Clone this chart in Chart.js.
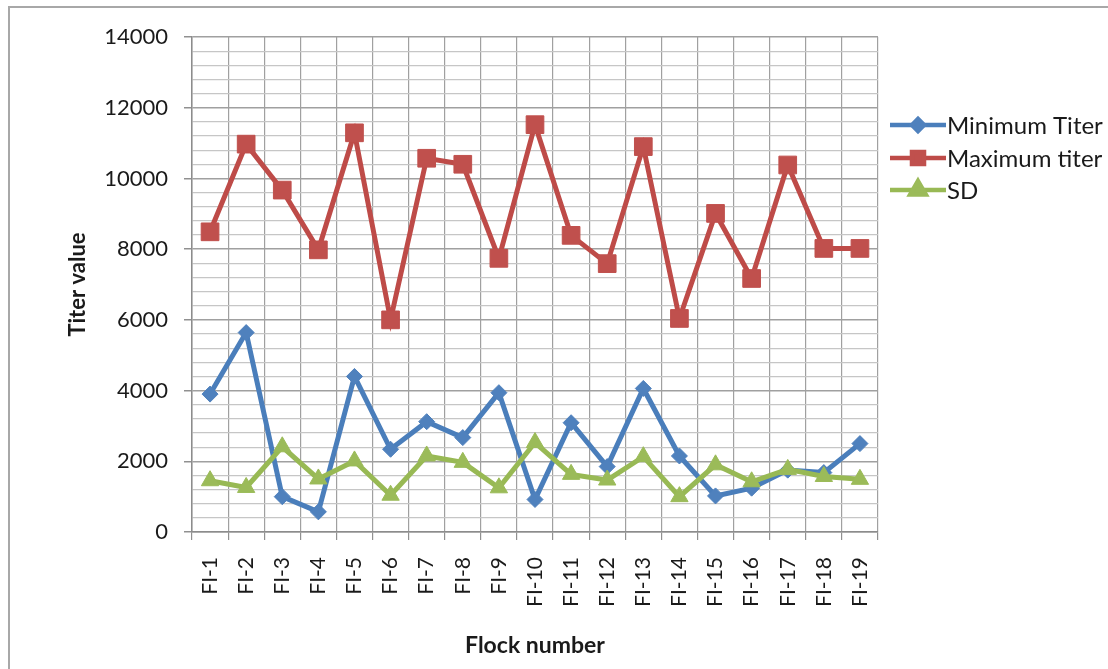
<!doctype html>
<html lang="en">
  <head>
    <meta charset="utf-8">
    <title>Titer values by flock</title>
    <style>
      body { margin: 0; background: #fff; }
    </style>
  </head>
  <body>
    <canvas id="titer-chart" width="1108" height="669"></canvas>

    <script src="https://cdn.jsdelivr.net/npm/chart.js"></script>
    <script>
        // data
        var flocks = ['FI-1', 'FI-2', 'FI-3', 'FI-4', 'FI-5', 'FI-6', 'FI-7', 'FI-8', 'FI-9', 'FI-10',
                      'FI-11', 'FI-12', 'FI-13', 'FI-14', 'FI-15', 'FI-16', 'FI-17', 'FI-18', 'FI-19']
        var minTiter = [3900, 5640, 1000, 570, 4400, 2340, 3120, 2670, 3940, 920,
                        3090, 1850, 4060, 2150, 1020, 1240, 1750, 1680, 2500]
        var maxTiter = [8490, 10970, 9670, 7980, 11290, 6000, 10570, 10400, 7740, 11520,
                        8390, 7590, 10900, 6040, 9010, 7170, 10380, 8020, 8020]
        var sdValues = [1450, 1260, 2410, 1500, 2010, 1040, 2150, 1970, 1250, 2530,
                        1630, 1470, 2130, 1000, 1900, 1420, 1770, 1570, 1490]
        var yTicks = [0, 2000, 4000, 6000, 8000, 10000, 12000, 14000]

        var seriesNames = ['Minimum Titer', 'Maximum titer', 'SD']
        var lineColors = ['#4a7ebb', '#be4b48', '#98b954']
        var markerColors = ['#4f81bd', '#c0504d', '#9bbb59']

        var textColor = '#1a1a1a'
        var font = 'Lato, "Open Sans", sans-serif'

        // frame round the picture and an Excel-like legend (line + marker)
        var framePlugin = {
            id: 'framePlugin',
            beforeDraw: function (chart) {
                var ctx = chart.ctx
                ctx.save()
                ctx.fillStyle = '#fff'
                ctx.fillRect(0, 0, chart.width, chart.height)
                ctx.strokeStyle = '#a8a8a8'
                ctx.lineWidth = 2
                ctx.beginPath()
                ctx.moveTo(9, chart.height)
                ctx.lineTo(9, 7)
                ctx.lineTo(chart.width, 7)
                ctx.stroke()
                ctx.restore()
            },
            afterDraw: function (chart) {
                var ctx = chart.ctx
                var legendMarks = [
                    { pointStyle: 'rectRot', radius: 6 },
                    { pointStyle: 'rect', radius: 8.5 },
                    { pointStyle: 'triangle', radius: 9 }
                ]
                var rows = [125, 158, 190]
                ctx.save()
                for (var i = 0; i < seriesNames.length; i++) {
                    var y = rows[i]
                    ctx.strokeStyle = lineColors[i]
                    ctx.lineWidth = 4.5
                    ctx.beginPath()
                    ctx.moveTo(890, y)
                    ctx.lineTo(946, y)
                    ctx.stroke()
                    ctx.fillStyle = markerColors[i]
                    ctx.strokeStyle = markerColors[i]
                    Chart.helpers.drawPoint(ctx, {
                        pointStyle: legendMarks[i].pointStyle,
                        radius: legendMarks[i].radius,
                        rotation: 0,
                        borderWidth: 1
                    }, 918, y)
                    ctx.fillStyle = textColor
                    ctx.font = '24px ' + font
                    ctx.textBaseline = 'middle'
                    ctx.textAlign = 'left'
                    ctx.fillText(seriesNames[i], 947, y + 1)
                }
                ctx.restore()
            }
        }

        function makeSeries(idx, values, pointStyle, radius, order) {
            return {
                label: seriesNames[idx],
                data: values,
                borderColor: lineColors[idx],
                backgroundColor: markerColors[idx],
                pointBackgroundColor: markerColors[idx],
                pointBorderColor: markerColors[idx],
                pointBorderWidth: 1,
                borderWidth: 5,
                pointStyle: pointStyle,
                pointRadius: radius,
                pointHoverRadius: radius,
                tension: 0,
                fill: false,
                order: order
            }
        }

        var titerChart = new Chart(document.getElementById('titer-chart'), {
            type: 'line',
            data: {
                labels: flocks,
                datasets: [
                    makeSeries(0, minTiter, 'rectRot', 8, 2),
                    makeSeries(1, maxTiter, 'rect', 12.5, 1),
                    makeSeries(2, sdValues, 'triangle', 10, 0)
                ]
            },
            options: {
                responsive: false,
                animation: false,
                layout: {
                    padding: { left: 0, top: 37, right: 230, bottom: 0 }
                },
                plugins: {
                    legend: { display: false },
                    tooltip: { enabled: false }
                },
                scales: {
                    x: {
                        offset: true,
                        grid: {
                            offset: true,
                            color: '#a0a0a0',
                            lineWidth: 1.2,
                            tickLength: 8,
                            tickColor: '#909090'
                        },
                        border: { color: '#8c8c8c', width: 1.5 },
                        ticks: {
                            autoSkip: false,
                            minRotation: 90,
                            maxRotation: 90,
                            padding: 17,
                            color: textColor,
                            font: { family: font, size: 21 }
                        },
                        title: {
                            display: true,
                            text: 'Flock number',
                            color: textColor,
                            font: { family: font, size: 23, weight: 'bold' },
                            padding: { top: 0, bottom: 10 }
                        },
                        afterFit: function (scale) { scale.height = 137 }
                    },
                    y: {
                        min: 0,
                        max: 14000,
                        ticks: {
                            stepSize: 400,
                            autoSkip: false,
                            padding: 16,
                            color: textColor,
                            font: { family: font, size: 22 },
                            callback: function (value) {
                                return yTicks.indexOf(value) >= 0 ? String(value) : ''
                            }
                        },
                        grid: {
                            color: function (c) {
                                return c.tick && c.tick.value % 2000 === 0 ? '#a0a0a0' : '#c6c6c6'
                            },
                            lineWidth: function (c) {
                                return c.tick && c.tick.value % 2000 === 0 ? 1.5 : 1.2
                            },
                            tickLength: 8,
                            tickColor: function (c) {
                                return c.tick && c.tick.value % 2000 === 0 ? '#909090' : 'rgba(0,0,0,0)'
                            }
                        },
                        border: { color: '#8c8c8c', width: 1.5 },
                        title: {
                            display: true,
                            text: 'Titer value',
                            color: textColor,
                            font: { family: font, size: 22, weight: 'bold' },
                            padding: { top: 65, bottom: 0 }
                        },
                        afterFit: function (scale) { scale.width = 192 }
                    }
                }
            },
            plugins: [framePlugin]
        })
    </script>
  </body>
</html>
